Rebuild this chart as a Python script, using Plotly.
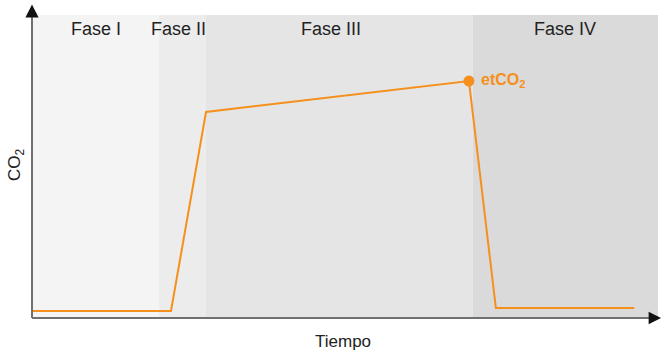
import plotly.graph_objects as go

# Capnogram waveform (arbitrary time units vs. CO2 level in %)
time = [0.0, 2.22, 2.78, 6.98, 7.41, 9.62]
co2 = [2.3, 2.3, 68.0, 78.2, 3.3, 3.3]

# Phase limits on the time axis and their labels
phase_names = ["Fase I", "Fase II", "Fase III", "Fase IV"]
phase_start = [0.0, 2.03, 2.78, 7.04]
phase_end = [2.03, 2.78, 7.04, 10.0]
phase_label_x = [1.03, 2.34, 4.77, 8.52]
phase_fill = ["#f4f4f4", "#ececec", "#e5e5e5", "#dadada"]

peak_index = 3
orange = "#f5901c"
font_family = "Liberation Sans, Arial"

fig = go.Figure()

fig.add_trace(go.Scatter(
    x=time, y=co2, mode="lines",
    line=dict(color=orange, width=2),
    hoverinfo="skip", showlegend=False,
))
fig.add_trace(go.Scatter(
    x=[time[peak_index]], y=[co2[peak_index]], mode="markers",
    marker=dict(color=orange, size=11),
    hoverinfo="skip", showlegend=False,
))

shapes = []
annotations = []
for name, x0, x1, lx, fill in zip(phase_names, phase_start, phase_end, phase_label_x, phase_fill):
    shapes.append(dict(type="rect", xref="x", yref="y", x0=x0, x1=x1, y0=0, y1=100,
                       fillcolor=fill, line=dict(width=0), layer="below"))
    annotations.append(dict(x=lx, y=1.0, xref="x", yref="paper", yanchor="top", yshift=-2,
                            text=name, showarrow=False,
                            font=dict(family=font_family, size=18, color="#222222")))

# axis lines
shapes.append(dict(type="line", xref="paper", yref="paper", x0=0, x1=0, y0=0, y1=1.0,
                   line=dict(color="#707070", width=2)))
shapes.append(dict(type="line", xref="paper", yref="paper", x0=0, x1=0.99, y0=0, y1=0,
                   line=dict(color="#707070", width=2)))

# arrowheads at the ends of both axes
shapes.append(dict(type="path", xref="paper", yref="paper",
                   path="M -0.0105 0.992 L 0.0105 0.992 L 0 1.035 Z",
                   fillcolor="#111111", line=dict(width=0)))
shapes.append(dict(type="path", xref="paper", yref="paper",
                   path="M 0.985 -0.021 L 0.985 0.021 L 1.005 0 Z",
                   fillcolor="#111111", line=dict(width=0)))

# end-tidal CO2 label
annotations.append(dict(x=time[peak_index], y=co2[peak_index], xref="x", yref="y",
                        xanchor="left", xshift=10, yshift=1, showarrow=False,
                        text="<b>etCO<sub>2</sub></b>",
                        font=dict(family=font_family, size=16, color=orange)))

# axis titles
annotations.append(dict(x=0.497, y=0, xref="paper", yref="paper", yanchor="top", yshift=-12,
                        text="Tiempo", showarrow=False,
                        font=dict(family=font_family, size=17, color="#222222")))
annotations.append(dict(x=0, y=0.505, xref="paper", yref="paper", xanchor="center", xshift=-16,
                        text="CO<sub>2</sub>", textangle=-90, showarrow=False,
                        font=dict(family=font_family, size=17, color="#222222")))

fig.update_layout(
    width=661, height=353,
    margin=dict(l=32, r=3, t=15, b=35),
    paper_bgcolor="white", plot_bgcolor="white",
    xaxis=dict(range=[0, 10], showgrid=False, zeroline=False, showticklabels=False,
               ticks="", showline=False, fixedrange=True),
    yaxis=dict(range=[0, 100], showgrid=False, zeroline=False, showticklabels=False,
               ticks="", showline=False, fixedrange=True),
    shapes=shapes,
    annotations=annotations,
)

fig.write_html("out.html")
